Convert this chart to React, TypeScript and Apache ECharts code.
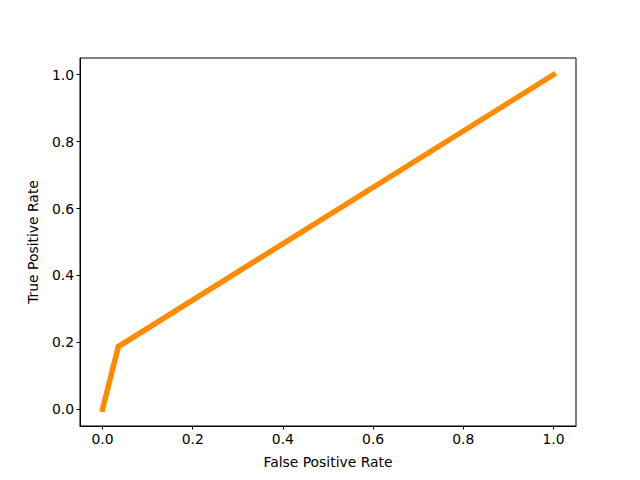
import React, { useEffect, useRef } from "react";
import * as echarts from "echarts";

const fpr: number[] = [0, 0.035, 1];
const tpr: number[] = [0, 0.1875, 1];
const tickValues: number[] = [0, 0.2, 0.4, 0.6, 0.8, 1.0];
const xTitle = "False Positive Rate";
const yTitle = "True Positive Rate";

export default function App() {
  const ref = useRef<HTMLDivElement>(null);
  useEffect(() => {
    if (!ref.current) return;
    const chart = echarts.init(ref.current, null, { renderer: "svg" });
    const font = "DejaVu Sans";
    const axisCommon = (name: string, isY: boolean) => ({
      type: "value",
      min: -0.05,
      max: 1.05,
      name,
      nameLocation: "middle",
      nameGap: isY ? 40 : 29,
      nameRotate: isY ? 90 : 0,
      nameTextStyle: { fontFamily: font, fontSize: 13.9, color: "#000" },
      axisLine: { show: true, onZero: false, lineStyle: { color: "#000", width: 1 } },
      axisTick: {
        show: true,
        inside: false,
        length: 3.5,
        lineStyle: { color: "#000", width: 1 },
        customValues: tickValues,
      },
      axisLabel: {
        show: true,
        margin: 6,
        fontFamily: font,
        fontSize: 13.9,
        color: "#000",
        customValues: tickValues,
        formatter: (v: number) => v.toFixed(1),
      },
      splitLine: { show: false },
    });
    chart.setOption({
      animation: false,
      backgroundColor: "#fff",
      grid: {
        left: 80,
        right: 64,
        top: 58,
        bottom: 54,
        show: true,
        borderColor: "#000",
        borderWidth: 1,
        backgroundColor: "transparent",
      },
      xAxis: axisCommon(xTitle, false),
      yAxis: axisCommon(yTitle, true),
      series: [
        {
          type: "line",
          data: fpr.map((x, i) => [x, tpr[i]]),
          symbol: "none",
          lineStyle: { color: "#ff8c00", width: 5.5, cap: "square", join: "miter" },
        },
      ],
    });
    return () => chart.dispose();
  }, []);
  return (
    <div
      ref={ref}
      style={{ position: "fixed", left: 0, top: 0, width: 640, height: 480 }}
    />
  );
}
